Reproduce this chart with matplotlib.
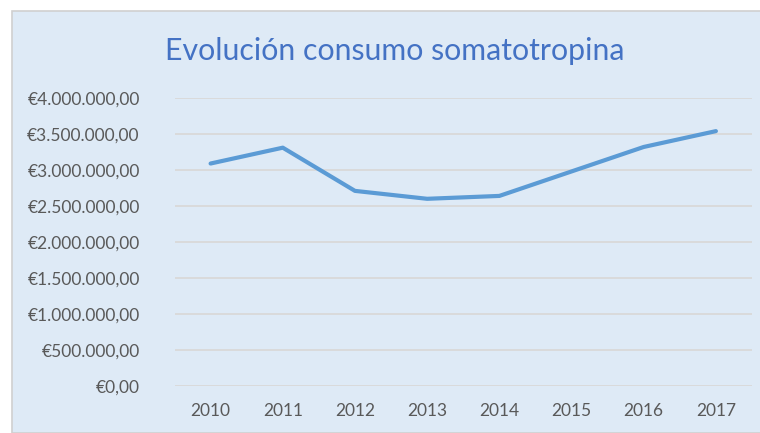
import matplotlib
matplotlib.use("Agg")
import matplotlib.pyplot as plt
from matplotlib.patches import Rectangle
from matplotlib.ticker import FuncFormatter, MultipleLocator

# Data
years = ["2010", "2011", "2012", "2013", "2014", "2015", "2016", "2017"]
consumo = [3090000, 3310000, 2710000, 2600000, 2640000, 2980000, 3320000, 3540000]

title = "Evolución consumo somatotropina"

plt.rcParams["font.family"] = ["Lato", "DejaVu Sans"]

W, H = 760, 433
fig = plt.figure(figsize=(W / 100, H / 100), dpi=100)
fig.patch.set_facecolor("white")

# chart area with light blue fill and grey border
fig.patches.append(Rectangle((12 / W, 0), 1, 1 - 11 / H, transform=fig.transFigure,
                             facecolor="#DEEAF6", edgecolor="#D0D0D0", lw=1.2,
                             zorder=-1))

ax = fig.add_axes([174.5 / W, 47 / H, 577.5 / W, 288 / H])
ax.set_facecolor("none")
ax.set_zorder(1)

x = list(range(len(years)))
ax.plot(x, consumo, color="#5B9BD5", lw=3.0, solid_capstyle="round",
        solid_joinstyle="round", zorder=3)

ax.set_xlim(-0.5, len(years) - 0.5)
ax.set_ylim(0, 4000000)
ax.yaxis.set_major_locator(MultipleLocator(500000))


def euro(v, pos):
    s = f"{v:,.2f}".replace(",", "X").replace(".", ",").replace("X", ".")
    return "€" + s


ax.yaxis.set_major_formatter(FuncFormatter(euro))
ax.set_xticks(x)
ax.set_xticklabels(years)

ax.grid(axis="y", color="#D9D9D9", lw=1.3)
ax.set_axisbelow(True)
for sp in ax.spines.values():
    sp.set_visible(False)
ax.tick_params(length=0, labelsize=12.5, labelcolor="#595959")
ax.tick_params(axis="y", pad=25)
ax.tick_params(axis="x", pad=12)

fig.text(394.6 / W, 1 - 51 / H, title, ha="center", va="center",
         fontsize=21.8, color="#4472C4")

fig.savefig("out.png", dpi=100)
